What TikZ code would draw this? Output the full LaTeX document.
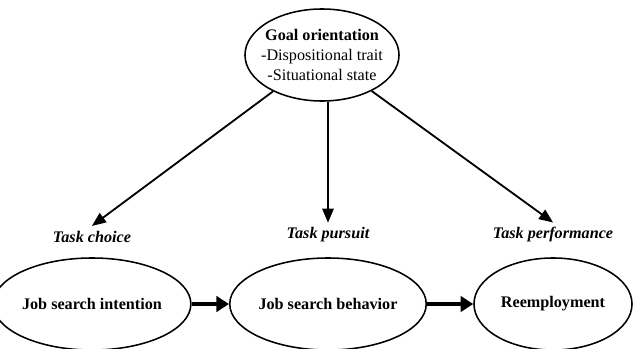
\documentclass[tikz,border=0pt]{standalone}
\usepackage{fontspec}
\setmainfont{Liberation Serif}
\usetikzlibrary{shapes,arrows,arrows.meta,positioning}

\begin{document}
\begin{tikzpicture}[
    x=0.025cm, y=-0.025cm,
    node distance=0.25cm,
    state/.style={draw, ellipse, line width=1.1pt, minimum width=4.1cm, minimum height=2.3cm, inner sep=0pt, align=center, font=\fontsize{11.5}{14}\selectfont\bfseries},
    task/.style={font=\fontsize{11.5}{14}\selectfont\bfseries\itshape},
    link/.style={->, line width=1.3pt, >=triangle 45},
    flow/.style={-{Triangle[length=9pt, width=11pt]}, line width=3.2pt}
]
    \useasboundingbox (0,0) rectangle (634,349);
    \node[state, inner xsep=-5pt, inner ysep=2pt, minimum width=3.85cm, minimum height=2.3cm] (goal) at (322,55) {Goal orientation\\\mdseries -Dispositional trait\\\mdseries -Situational state};
    \node[state] (intent) at (92,304) {Job search intention};
    \node[state] (behav) at (328,304) {Job search behavior};
    \node[state, minimum width=3.95cm] (reemp) at (553,304) {Reemployment};
    \node[task, above=of intent] (choice) {Task choice};
    \node[task, above=of behav] (pursuit) {Task pursuit};
    \node[task, above=of reemp] (perform) {Task performance};

    \draw[link] (goal) -- (choice.north);
    \draw[link] (goal.south -| pursuit.north) -- (pursuit.north);
    \draw[link] (goal) -- (perform.north);
    \draw[flow] (intent) -- (behav);
    \draw[flow] (behav) -- (reemp);
\end{tikzpicture}
\end{document}
